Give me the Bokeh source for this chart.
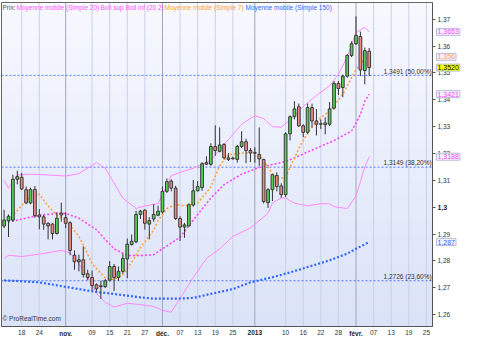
import numpy as np
from bokeh.plotting import figure
from bokeh.models import FixedTicker, Label, Range1d, ColumnDataSource, CustomJSTickFormatter
from bokeh.embed import file_html
from bokeh.resources import INLINE

# ---- candles: index 0 = 12 oct. 2012 ... index 83 = 6 févr. 2013 (trading days)
opens = [1.2930, 1.2949, 1.2952, 1.3104, 1.3111, 1.3065, 1.3016, 1.3066, 1.2971, 1.2964,
         1.2939, 1.2937, 1.2902, 1.2978, 1.2961, 1.2942, 1.2821, 1.2797, 1.2804, 1.2752,
         1.2738, 1.2711, 1.2707, 1.2704, 1.2728, 1.2779, 1.2738, 1.2761, 1.2807, 1.2861,
         1.2871, 1.2973, 1.2989, 1.2937, 1.2956, 1.2970, 1.2982, 1.3059, 1.3097, 1.3071,
         1.2958, 1.2926, 1.2930, 1.3008, 1.3061, 1.3073, 1.3166, 1.3160, 1.3226, 1.3208,
         1.3234, 1.3184, 1.3180, 1.3178, 1.3226, 1.3244, 1.3211, 1.3204, 1.3196, 1.3178,
         1.3017, 1.3065, 1.3118, 1.3079, 1.3047, 1.3273, 1.3337, 1.3374, 1.3303, 1.3279,
         1.3371, 1.3321, 1.3309, 1.3307, 1.3309, 1.3369, 1.3461, 1.3446, 1.3488, 1.3565,
         1.3609, 1.3636, 1.3509, 1.3581]
highs = [1.2990, 1.2973, 1.3121, 1.3136, 1.3128, 1.3077, 1.3073, 1.3079, 1.2993, 1.2971,
         1.2944, 1.2940, 1.2981, 1.3017, 1.2980, 1.2947, 1.2839, 1.2823, 1.2854, 1.2767,
         1.2764, 1.2716, 1.2726, 1.2732, 1.2799, 1.2788, 1.2779, 1.2827, 1.2883, 1.2898,
         1.2987, 1.2990, 1.2992, 1.2963, 1.3011, 1.3005, 1.3077, 1.3107, 1.3104, 1.3080,
         1.2966, 1.2942, 1.3014, 1.3101, 1.3097, 1.3168, 1.3190, 1.3238, 1.3305, 1.3297,
         1.3238, 1.3202, 1.3188, 1.3232, 1.3283, 1.3255, 1.3220, 1.3223, 1.3297, 1.3180,
         1.3071, 1.3124, 1.3130, 1.3089, 1.3279, 1.3342, 1.3395, 1.3386, 1.3309, 1.3386,
         1.3386, 1.3366, 1.3327, 1.3335, 1.3392, 1.3470, 1.3470, 1.3494, 1.3571, 1.3618,
         1.3711, 1.3654, 1.3595, 1.3593]
lows = [1.2922, 1.2889, 1.2946, 1.3085, 1.3064, 1.3011, 1.3011, 1.2961, 1.2918, 1.2916,
        1.2880, 1.2880, 1.2898, 1.2946, 1.2922, 1.2821, 1.2767, 1.2761, 1.2738, 1.2728,
        1.2690, 1.2688, 1.2658, 1.2699, 1.2723, 1.2688, 1.2726, 1.2752, 1.2735, 1.2857,
        1.2866, 1.2956, 1.2916, 1.2880, 1.2946, 1.2966, 1.2976, 1.3053, 1.3059, 1.2952,
        1.2874, 1.2886, 1.2928, 1.3002, 1.3059, 1.3061, 1.3157, 1.3154, 1.3192, 1.3204,
        1.3178, 1.3172, 1.3178, 1.3166, 1.3220, 1.3164, 1.3168, 1.3166, 1.3154, 1.3014,
        1.2997, 1.3023, 1.3059, 1.3035, 1.3037, 1.3249, 1.3327, 1.3299, 1.3261, 1.3273,
        1.3297, 1.3267, 1.3291, 1.3271, 1.3303, 1.3363, 1.3418, 1.3410, 1.3482, 1.3559,
        1.3604, 1.3488, 1.3458, 1.3488]
closes = [1.2952, 1.2966, 1.3104, 1.3114, 1.3068, 1.3016, 1.3066, 1.2968, 1.2964, 1.2937,
          1.2930, 1.2902, 1.2959, 1.2971, 1.2940, 1.2839, 1.2797, 1.2804, 1.2749, 1.2738,
          1.2708, 1.2696, 1.2704, 1.2726, 1.2779, 1.2738, 1.2761, 1.2809, 1.2862, 1.2873,
          1.2973, 1.2985, 1.2940, 1.2950, 1.2973, 1.2985, 1.3059, 1.3095, 1.3071, 1.2958,
          1.2926, 1.2934, 1.3009, 1.3061, 1.3077, 1.3162, 1.3160, 1.3226, 1.3211, 1.3232,
          1.3184, 1.3178, 1.3183, 1.3226, 1.3244, 1.3211, 1.3202, 1.3201, 1.3180, 1.3021,
          1.3065, 1.3121, 1.3077, 1.3047, 1.3273, 1.3337, 1.3366, 1.3303, 1.3279, 1.3371,
          1.3321, 1.3309, 1.3311, 1.3314, 1.3366, 1.3461, 1.3442, 1.3488, 1.3565, 1.3609,
          1.3640, 1.3511, 1.3583, 1.3520]

# ---- indicators (index, value)
bb_up_x = [0, 1, 3, 6, 10, 14, 17, 21, 23, 25, 27, 30, 32, 35, 37, 38, 41, 43, 47, 51, 54, 57,
           59, 61, 63, 65, 68, 71, 74, 76, 78, 80, 82, 83]
bb_up_y = [1.3100, 1.3070, 1.3120, 1.3123, 1.3120, 1.3116, 1.3125, 1.3166, 1.3145, 1.3090,
           1.3034, 1.2995, 1.3005, 1.3013, 1.3080, 1.3118, 1.3135, 1.3145, 1.3175, 1.3252,
           1.3309, 1.3341, 1.3330, 1.3300, 1.3298, 1.3325, 1.3375, 1.3416, 1.3452, 1.3495,
           1.3559, 1.3650, 1.3670, 1.3653]
bb_lo_x = [0, 1, 4, 8, 13, 15, 17, 19, 21, 23, 25, 28, 31, 34, 36, 38, 40, 43, 46, 49, 52, 56,
           60, 61, 63, 64, 66, 69, 72, 74, 75, 78, 80, 81, 82, 83]
bb_lo_y = [1.2809, 1.2821, 1.2816, 1.2825, 1.2839, 1.2830, 1.2790, 1.2740, 1.2678, 1.2645,
           1.2628, 1.2642, 1.2637, 1.2630, 1.2615, 1.2609, 1.2660, 1.2738, 1.2809, 1.2845,
           1.2891, 1.2923, 1.2977, 1.3016, 1.3034, 1.3034, 1.3015, 1.3005, 1.3013, 1.3013,
           1.3002, 1.2995, 1.3041, 1.3095, 1.3150, 1.3188]
ma20_x = [0, 3, 8, 12, 14, 17, 21, 23, 25, 28, 31, 34, 36, 40, 43, 47, 50, 54, 58, 61, 64, 67,
          72, 75, 79, 81, 82, 83]
ma20_y = [1.2942, 1.2952, 1.2970, 1.2977, 1.2977, 1.2959, 1.2916, 1.2880, 1.2845, 1.2820,
          1.2820, 1.2823, 1.2845, 1.2888, 1.2952, 1.3034, 1.3084, 1.3123, 1.3148, 1.3159,
          1.3170, 1.3191, 1.3227, 1.3248, 1.3284, 1.3345, 1.3395, 1.3421]
ma7_x = [1, 3, 6, 8, 10, 12, 14, 17, 18, 20, 23, 25, 27, 29, 31, 34, 35, 37, 39, 41, 44, 47,
         49, 51, 54, 57, 58, 61, 62, 64, 67, 68, 71, 74, 77, 80, 82, 83]
ma7_y = [1.2952, 1.2988, 1.3041, 1.3048, 1.3005, 1.2970, 1.2952, 1.2891, 1.2860, 1.2790,
         1.2736, 1.2730, 1.2748, 1.2795, 1.2850, 1.2915, 1.2950, 1.2995, 1.3010, 1.3005,
         1.3015, 1.3075, 1.3155, 1.3195, 1.3202, 1.3202, 1.3195, 1.3125, 1.3105, 1.3113,
         1.3218, 1.3250, 1.3322, 1.3358, 1.3420, 1.3513, 1.3552, 1.3560]
ma150_x = [0, 3, 8, 12, 17, 21, 25, 30, 34, 39, 43, 47, 52, 56, 61, 65, 69, 74, 78, 80, 83]
ma150_y = [1.2727, 1.2725, 1.2720, 1.2709, 1.2695, 1.2684, 1.2677, 1.2666, 1.2659, 1.2659,
           1.2662, 1.2677, 1.2695, 1.2720, 1.2739, 1.2757, 1.2777, 1.2802, 1.2827, 1.2845,
           1.2870]

fib_levels = [1.3491, 1.3149, 1.2726]
fib_texts = ["1,3491 (50,00%)", "1,3149 (38,20%)", "1,2726 (23,60%)"]

x_ticks = [4, 8, 14, 20, 24, 28, 32, 36, 40, 44, 48, 52, 57, 64, 68, 72, 76, 80, 84, 88, 92, 96]
x_labels = ["18", "24", "nov.", "09", "15", "21", "27", "déc.", "07", "13", "19", "25", "2013",
            "10", "16", "22", "28", "févr.", "07", "13", "19", "25"]
month_labels = ["nov.", "déc.", "2013", "févr."]
y_ticks = [1.26, 1.27, 1.28, 1.29, 1.30, 1.31, 1.32, 1.33, 1.34, 1.35, 1.36, 1.37]

tag_values = [1.3653, 1.356, 1.3520, 1.3421, 1.3188, 1.287]
tag_texts = ["1,3653", "1,356", "1,3520", "1,3421", "1,3188", "1,287"]
tag_colors = ["#ff44ff", "#ffa040", "#000000", "#ff44ff", "#ff44ff", "#3366ff"]
tag_fills = ["#f2f2ff", "#f2f2ff", "#ffff00", "#f2f2ff", "#f2f2ff", "#f2f2ff"]

FONT = "Liberation Sans"
# visible chart area (data) and its place on the canvas (px)
X0, X1 = -0.593, 97.39
Y0, Y1 = 1.25555, 1.37625
W, H = 462, 340
PL, PR, PT, PB = 1, 432, 2, 326          # chart box inside the canvas
sx = (PR - PL) / (X1 - X0)               # px per index
sy = (PB - PT) / (Y1 - Y0)               # px per price unit
XF0, XF1 = X0 - PL / sx, X1 + (W - PR) / sx
YF0, YF1 = Y0 - (H - PB) / sy, Y1 + PT / sy

p = figure(width=W, height=H, output_backend="svg", toolbar_location=None,
           x_range=Range1d(XF0, XF1), y_range=Range1d(YF0, YF1), y_axis_location="right",
           min_border_left=0, min_border_top=0, min_border_right=0, min_border_bottom=0,
           background_fill_color="white", border_fill_color="white")
p.outline_line_color = None
p.grid.visible = False

# gradient background of the chart box
n = 64
grad = np.zeros((n, 1), dtype=np.uint32)
view = grad.view(dtype=np.uint8).reshape((n, 1, 4))
top = np.array([248, 249, 255]); bot = np.array([219, 227, 248])
for k in range(n):
    t = k / (n - 1)
    c = bot + (top - bot) * t
    view[k, 0, 0:3] = c.astype(np.uint8)
    view[k, 0, 3] = 255
p.image_rgba(image=[grad], x=X0, y=Y0, dw=X1 - X0, dh=Y1 - Y0, level="image")

# vertical grid lines (light at every tick, darker at month starts)
minor_t = [t for t, lab in zip(x_ticks, x_labels) if lab not in month_labels]
month_t = [t for t, lab in zip(x_ticks, x_labels) if lab in month_labels]
p.segment(x0=minor_t, y0=[Y0] * len(minor_t), x1=minor_t, y1=[Y1] * len(minor_t),
          line_color="#c9d1ea", line_width=1, level="underlay")
p.segment(x0=month_t, y0=[Y0] * len(month_t), x1=month_t, y1=[Y1] * len(month_t),
          line_color="#9ea6bf", line_width=1, level="underlay")

# fibonacci levels
p.segment(x0=[X0] * 3, y0=fib_levels, x1=[X1] * 3, y1=fib_levels, line_color="#5577ff",
          line_dash="2 2", line_width=1)
for lv, tx in zip(fib_levels, fib_texts):
    p.add_layout(Label(x=X1 - 0.2, y=lv + 0.0003, text=tx, text_align="right",
                       text_baseline="bottom", text_font=FONT, text_font_size="6.5px",
                       text_color="#333333"))

# indicators
p.line(bb_up_x, bb_up_y, line_color="#ff88ff", line_width=1)
p.line(bb_lo_x, bb_lo_y, line_color="#ff88ff", line_width=1)
p.line(ma150_x, ma150_y, line_color="#3366ff", line_width=2.2, line_dash="2 2")
p.line(ma20_x, ma20_y, line_color="#ff44ff", line_width=1.6, line_dash="2 2")
p.line(ma7_x, ma7_y, line_color="#ffa040", line_width=1.6, line_dash="2 2")

# candles
idx = list(range(len(closes)))
up = [c >= o for o, c in zip(opens, closes)]
src = ColumnDataSource(dict(
    x=idx, high=highs, low=lows,
    top=[max(o, c) for o, c in zip(opens, closes)],
    bottom=[min(o, c) for o, c in zip(opens, closes)],
    color=["#55d055" if u else "#f08a80" for u in up]))
p.segment(x0="x", y0="low", x1="x", y1="high", source=src, line_color="#333333", line_width=1)
p.vbar(x="x", width=0.62, top="top", bottom="bottom", source=src, fill_color="color",
       line_color="#3a3a3a", line_width=1)

# chart box border (top / left)
p.quad(left=[X0], right=[X1], bottom=[Y0], top=[Y1], fill_alpha=0, line_color="#666666",
       line_width=1)

# axes, fixed on the chart box edges
yax = p.yaxis[0]
yax.fixed_location = X1
yax.bounds = (Y0, Y1)
yax.ticker = FixedTicker(ticks=y_ticks)
yax.formatter = CustomJSTickFormatter(code="""
    const v = Math.round(tick*100)/100;
    if (Math.abs(v - 1.3) < 1e-6) { return ''; }
    return v.toString().replace('.', ',');
""")
yax.axis_line_color = "#555555"
yax.major_tick_line_color = "#555555"
yax.major_tick_out = 3
yax.major_tick_in = 0
yax.minor_tick_line_color = None
yax.minor_tick_out = 0
yax.minor_tick_in = 0
yax.major_label_text_font = FONT
yax.major_label_text_font_size = "6.5px"
yax.major_label_text_color = "#333333"
yax.major_label_standoff = 2

xax = p.xaxis[0]
xax.fixed_location = Y0
xax.bounds = (X0, X1)
xax.ticker = FixedTicker(ticks=x_ticks)
xax.major_label_overrides = {t: ("" if lab in month_labels else lab)
                             for t, lab in zip(x_ticks, x_labels)}
xax.axis_line_color = "#555555"
xax.major_tick_line_color = None
xax.major_tick_out = 0
xax.major_tick_in = 0
xax.minor_tick_line_color = None
xax.minor_tick_out = 0
xax.minor_tick_in = 0
xax.major_label_text_font = FONT
xax.major_label_text_font_size = "6.5px"
xax.major_label_text_color = "#333333"
xax.major_label_standoff = 3

# bold month labels
for t in month_t:
    lab = x_labels[x_ticks.index(t)]
    p.add_layout(Label(x=t, y=Y0 - 3 / sy, text=lab, text_align="center",
                       text_baseline="top", text_font=FONT, text_font_size="6.5px",
                       text_font_style="bold", text_color="#222222"))

p.add_layout(Label(x=X1 + 5 / sx, y=1.30, text="1,3", text_align="left",
                   text_baseline="middle", text_font=FONT, text_font_size="7px",
                   text_font_style="bold", text_color="#222222"))

# value tags at the right
for v, tx, tc, fc in zip(tag_values, tag_texts, tag_colors, tag_fills):
    p.add_layout(Label(x=X1 + 4 / sx, y=v, text=tx, text_align="left",
                       text_baseline="middle", text_font=FONT, text_font_size="7px",
                       text_color=tc, background_fill_color=fc, background_fill_alpha=1.0,
                       border_line_color="#b8bcd8", border_line_width=1, padding=1,
                       level="overlay"))

# legend line at the top
legend_items = [(2, "Prix:", "#555555"),
                (16, "Moyenne mobile (Simple 20)", "#ff55ff"),
                (100, "Boll sup Boll inf (20 2)", "#ff55ff"),
                (164, "Moyenne mobile (Simple 7)", "#ffa040"),
                (245, "Moyenne mobile (Simple 150)", "#3366ff")]
for lx, tx, tc in legend_items:
    p.add_layout(Label(x=lx, y=7, x_units="canvas", y_units="canvas", text=tx,
                       text_align="left", text_baseline="middle", text_font=FONT,
                       text_font_size="6.5px", text_color=tc, level="overlay"))

p.add_layout(Label(x=2, y=PB - 8, x_units="canvas", y_units="canvas",
                   text="© ProRealTime.com", text_align="left", text_baseline="middle",
                   text_font=FONT, text_font_size="6.5px", text_color="#333333",
                   level="overlay"))

open("out.html", "w").write(file_html(p, INLINE))
